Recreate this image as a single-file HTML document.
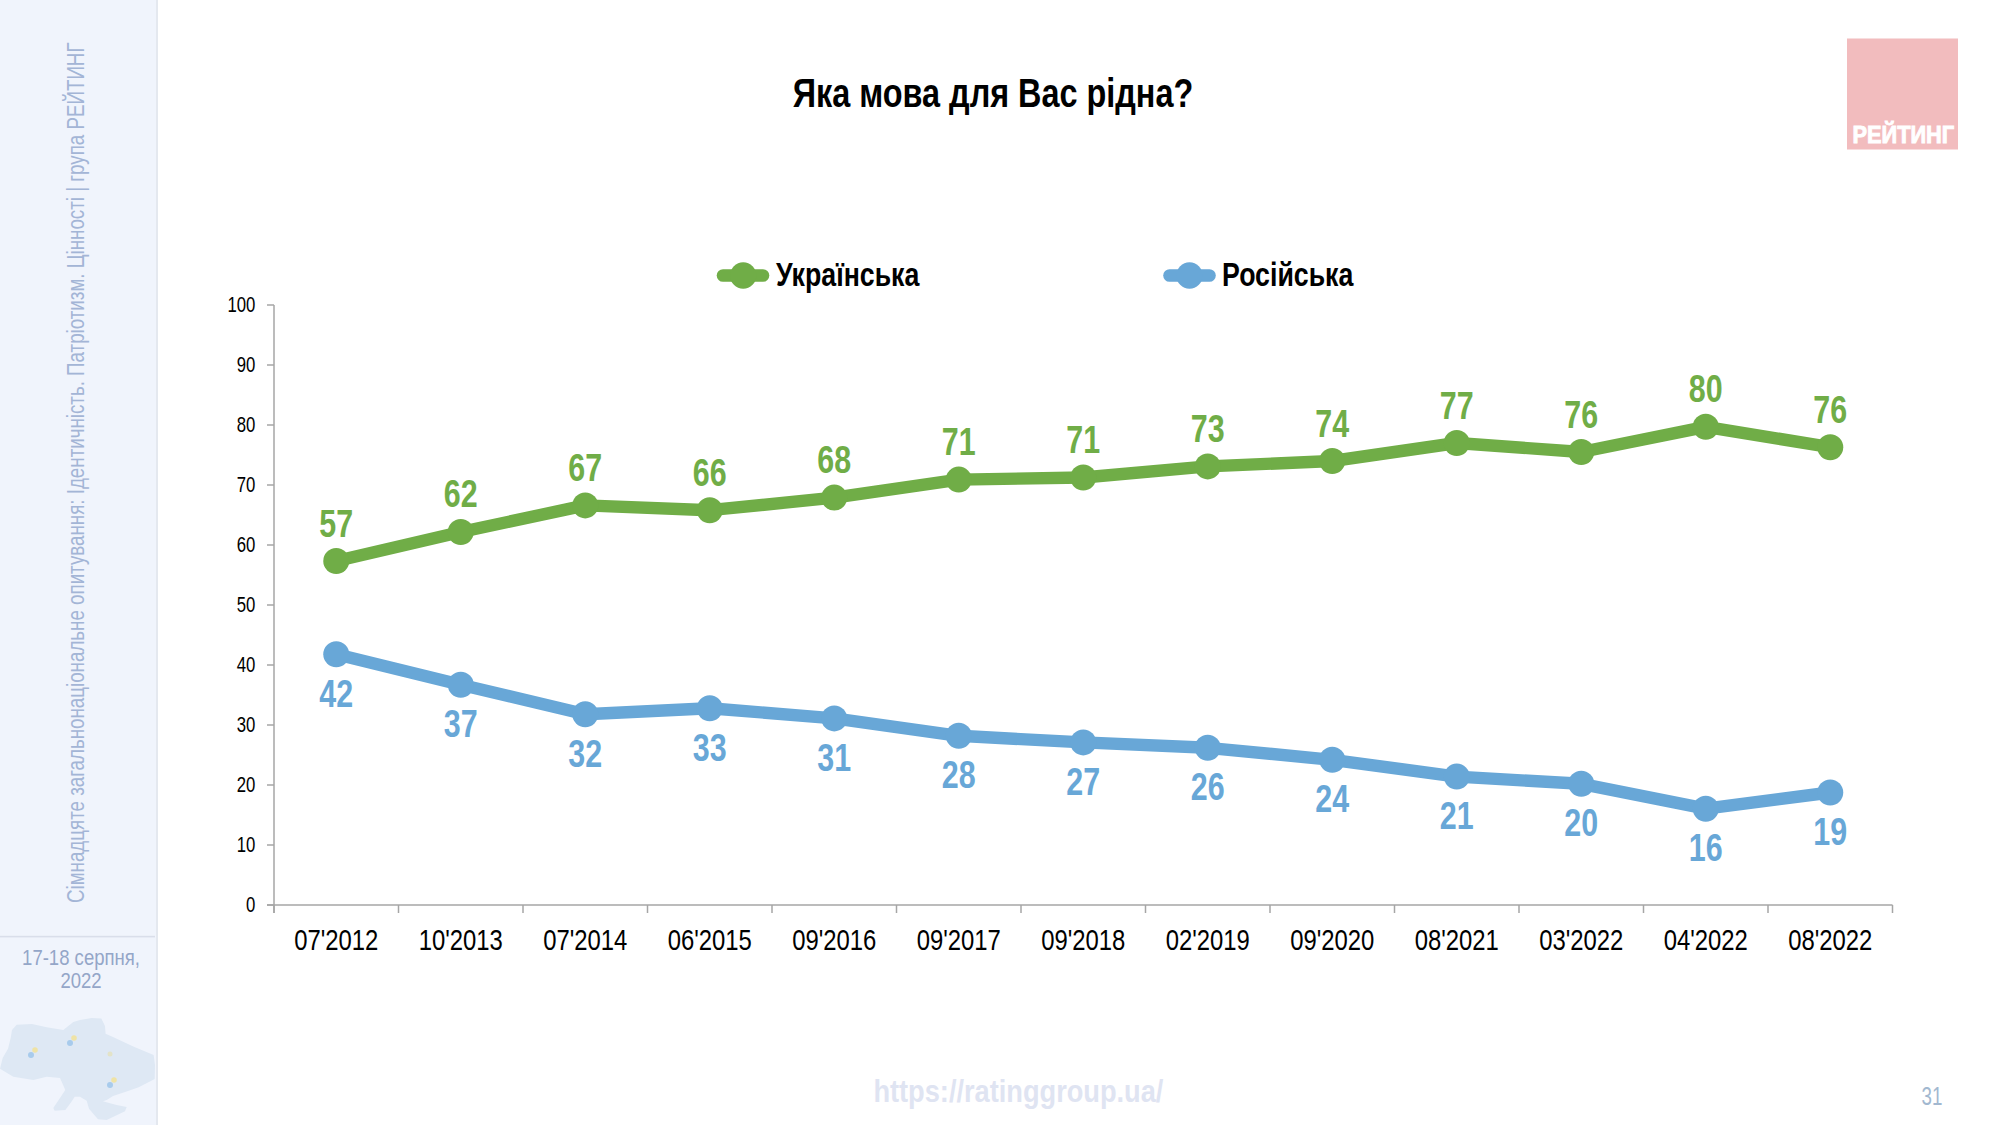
<!DOCTYPE html>
<html><head><meta charset="utf-8"><style>
html,body{margin:0;padding:0;background:#fff;width:2000px;height:1125px;overflow:hidden}
svg{display:block;font-family:"Liberation Sans",sans-serif}
</style></head><body>
<svg width="2000" height="1125" viewBox="0 0 2000 1125">
<rect x="0" y="0" width="157" height="1125" fill="#F0F4FC"/>
<rect x="156" y="0" width="2" height="1125" fill="#E4E8EF"/>
<rect x="0" y="935.8" width="155" height="1.6" fill="#D9DEEA"/>
<text transform="translate(84,903) rotate(-90) scale(0.772,1)" font-size="24.3" fill="#A3B5D6">Сімнадцяте загальнонаціональне опитування: Ідентичність. Патріотизм. Цінності | група РЕЙТИНГ</text>
<text transform="translate(81.00,965.00) scale(0.85,1)" text-anchor="middle" font-size="21.8" font-weight="normal" fill="#94A6C8" >17-18 серпня,</text>
<text transform="translate(81.00,988.00) scale(0.85,1)" text-anchor="middle" font-size="21.8" font-weight="normal" fill="#94A6C8" >2022</text>
<polygon points="12.0,1030.0 16.7,1024.7 32.0,1024.0 46.7,1027.3 63.3,1030.0 73.3,1022.0 80.0,1020.0 91.7,1018.0 101.3,1018.5 105.0,1026.0 105.6,1033.8 113.0,1037.0 133.3,1046.6 153.6,1055.0 155.0,1065.0 154.7,1079.0 138.7,1087.3 128.0,1091.0 113.0,1096.0 106.7,1100.0 103.0,1101.3 110.0,1103.3 116.7,1105.0 126.7,1107.0 125.0,1111.3 106.7,1120.0 98.0,1119.3 89.0,1108.7 86.7,1100.7 80.0,1096.7 74.7,1096.7 71.3,1102.0 65.3,1110.0 54.7,1110.7 53.3,1108.0 60.0,1098.0 65.3,1090.0 60.0,1078.0 46.7,1076.7 33.3,1080.0 13.3,1076.7 0.0,1068.7 2.7,1058.0 8.0,1048.7 10.7,1038.0" fill="#DEE8F4"/>
<circle cx="35" cy="1050" r="2.8" fill="#EFE3A6"/><circle cx="31" cy="1055" r="3" fill="#A8CBEC"/>
<circle cx="74" cy="1038" r="2.8" fill="#EFE3A6"/><circle cx="70" cy="1043" r="3" fill="#A8CBEC"/>
<circle cx="114" cy="1080" r="2.8" fill="#EFE3A6"/><circle cx="110" cy="1085" r="3" fill="#A8CBEC"/>
<circle cx="110" cy="1054" r="2.5" fill="#E3E3C8"/>
<text transform="translate(993.00,106.90) scale(0.81,1)" text-anchor="middle" font-size="40" font-weight="bold" fill="#000" >Яка мова для Вас рідна?</text>
<rect x="1847" y="38.5" width="111" height="111" fill="#F2BCBE"/>
<text transform="translate(1903.30,143.30) scale(0.935,1)" text-anchor="middle" font-size="23.3" font-weight="bold" fill="#FFFFFF" stroke="#FFFFFF" stroke-width="0.9">РЕЙТИНГ</text>
<line x1="723" y1="275.5" x2="763" y2="275.5" stroke="#70AD47" stroke-width="12.6" stroke-linecap="round"/>
<circle cx="743.2" cy="275.5" r="13.2" fill="#70AD47"/>
<text transform="translate(776.00,286.00) scale(0.81,1)" text-anchor="start" font-size="33" font-weight="bold" fill="#000" >Українська</text>
<line x1="1169.5" y1="275.5" x2="1209.5" y2="275.5" stroke="#68A7D7" stroke-width="12.6" stroke-linecap="round"/>
<circle cx="1189.5" cy="275.5" r="13.2" fill="#68A7D7"/>
<text transform="translate(1222.00,286.00) scale(0.81,1)" text-anchor="start" font-size="33" font-weight="bold" fill="#000" >Російська</text>
<line x1="274.0" y1="305.0" x2="274.0" y2="913.0" stroke="#A6A6A6" stroke-width="1.5"/>
<line x1="267.0" y1="905.0" x2="1892.5" y2="905.0" stroke="#A6A6A6" stroke-width="1.5"/>
<line x1="267.0" y1="905.0" x2="274.0" y2="905.0" stroke="#A6A6A6" stroke-width="1.5"/>
<text transform="translate(255.30,912.30) scale(0.775,1)" text-anchor="end" font-size="21.6" font-weight="normal" fill="#000" >0</text>
<line x1="267.0" y1="845.0" x2="274.0" y2="845.0" stroke="#A6A6A6" stroke-width="1.5"/>
<text transform="translate(255.30,852.30) scale(0.775,1)" text-anchor="end" font-size="21.6" font-weight="normal" fill="#000" >10</text>
<line x1="267.0" y1="785.0" x2="274.0" y2="785.0" stroke="#A6A6A6" stroke-width="1.5"/>
<text transform="translate(255.30,792.30) scale(0.775,1)" text-anchor="end" font-size="21.6" font-weight="normal" fill="#000" >20</text>
<line x1="267.0" y1="725.0" x2="274.0" y2="725.0" stroke="#A6A6A6" stroke-width="1.5"/>
<text transform="translate(255.30,732.30) scale(0.775,1)" text-anchor="end" font-size="21.6" font-weight="normal" fill="#000" >30</text>
<line x1="267.0" y1="665.0" x2="274.0" y2="665.0" stroke="#A6A6A6" stroke-width="1.5"/>
<text transform="translate(255.30,672.30) scale(0.775,1)" text-anchor="end" font-size="21.6" font-weight="normal" fill="#000" >40</text>
<line x1="267.0" y1="605.0" x2="274.0" y2="605.0" stroke="#A6A6A6" stroke-width="1.5"/>
<text transform="translate(255.30,612.30) scale(0.775,1)" text-anchor="end" font-size="21.6" font-weight="normal" fill="#000" >50</text>
<line x1="267.0" y1="545.0" x2="274.0" y2="545.0" stroke="#A6A6A6" stroke-width="1.5"/>
<text transform="translate(255.30,552.30) scale(0.775,1)" text-anchor="end" font-size="21.6" font-weight="normal" fill="#000" >60</text>
<line x1="267.0" y1="485.0" x2="274.0" y2="485.0" stroke="#A6A6A6" stroke-width="1.5"/>
<text transform="translate(255.30,492.30) scale(0.775,1)" text-anchor="end" font-size="21.6" font-weight="normal" fill="#000" >70</text>
<line x1="267.0" y1="425.0" x2="274.0" y2="425.0" stroke="#A6A6A6" stroke-width="1.5"/>
<text transform="translate(255.30,432.30) scale(0.775,1)" text-anchor="end" font-size="21.6" font-weight="normal" fill="#000" >80</text>
<line x1="267.0" y1="365.0" x2="274.0" y2="365.0" stroke="#A6A6A6" stroke-width="1.5"/>
<text transform="translate(255.30,372.30) scale(0.775,1)" text-anchor="end" font-size="21.6" font-weight="normal" fill="#000" >90</text>
<line x1="267.0" y1="305.0" x2="274.0" y2="305.0" stroke="#A6A6A6" stroke-width="1.5"/>
<text transform="translate(255.30,312.30) scale(0.775,1)" text-anchor="end" font-size="21.6" font-weight="normal" fill="#000" >100</text>
<line x1="274.0" y1="905.0" x2="274.0" y2="913.0" stroke="#A6A6A6" stroke-width="1.5"/>
<line x1="398.5" y1="905.0" x2="398.5" y2="913.0" stroke="#A6A6A6" stroke-width="1.5"/>
<line x1="523.0" y1="905.0" x2="523.0" y2="913.0" stroke="#A6A6A6" stroke-width="1.5"/>
<line x1="647.5" y1="905.0" x2="647.5" y2="913.0" stroke="#A6A6A6" stroke-width="1.5"/>
<line x1="772.0" y1="905.0" x2="772.0" y2="913.0" stroke="#A6A6A6" stroke-width="1.5"/>
<line x1="896.5" y1="905.0" x2="896.5" y2="913.0" stroke="#A6A6A6" stroke-width="1.5"/>
<line x1="1021.0" y1="905.0" x2="1021.0" y2="913.0" stroke="#A6A6A6" stroke-width="1.5"/>
<line x1="1145.5" y1="905.0" x2="1145.5" y2="913.0" stroke="#A6A6A6" stroke-width="1.5"/>
<line x1="1270.0" y1="905.0" x2="1270.0" y2="913.0" stroke="#A6A6A6" stroke-width="1.5"/>
<line x1="1394.5" y1="905.0" x2="1394.5" y2="913.0" stroke="#A6A6A6" stroke-width="1.5"/>
<line x1="1519.0" y1="905.0" x2="1519.0" y2="913.0" stroke="#A6A6A6" stroke-width="1.5"/>
<line x1="1643.5" y1="905.0" x2="1643.5" y2="913.0" stroke="#A6A6A6" stroke-width="1.5"/>
<line x1="1768.0" y1="905.0" x2="1768.0" y2="913.0" stroke="#A6A6A6" stroke-width="1.5"/>
<line x1="1892.5" y1="905.0" x2="1892.5" y2="913.0" stroke="#A6A6A6" stroke-width="1.5"/>
<text transform="translate(336.25,950.30) scale(0.79,1)" text-anchor="middle" font-size="30.2" font-weight="normal" fill="#000" >07'2012</text>
<text transform="translate(460.75,950.30) scale(0.79,1)" text-anchor="middle" font-size="30.2" font-weight="normal" fill="#000" >10'2013</text>
<text transform="translate(585.25,950.30) scale(0.79,1)" text-anchor="middle" font-size="30.2" font-weight="normal" fill="#000" >07'2014</text>
<text transform="translate(709.75,950.30) scale(0.79,1)" text-anchor="middle" font-size="30.2" font-weight="normal" fill="#000" >06'2015</text>
<text transform="translate(834.25,950.30) scale(0.79,1)" text-anchor="middle" font-size="30.2" font-weight="normal" fill="#000" >09'2016</text>
<text transform="translate(958.75,950.30) scale(0.79,1)" text-anchor="middle" font-size="30.2" font-weight="normal" fill="#000" >09'2017</text>
<text transform="translate(1083.25,950.30) scale(0.79,1)" text-anchor="middle" font-size="30.2" font-weight="normal" fill="#000" >09'2018</text>
<text transform="translate(1207.75,950.30) scale(0.79,1)" text-anchor="middle" font-size="30.2" font-weight="normal" fill="#000" >02'2019</text>
<text transform="translate(1332.25,950.30) scale(0.79,1)" text-anchor="middle" font-size="30.2" font-weight="normal" fill="#000" >09'2020</text>
<text transform="translate(1456.75,950.30) scale(0.79,1)" text-anchor="middle" font-size="30.2" font-weight="normal" fill="#000" >08'2021</text>
<text transform="translate(1581.25,950.30) scale(0.79,1)" text-anchor="middle" font-size="30.2" font-weight="normal" fill="#000" >03'2022</text>
<text transform="translate(1705.75,950.30) scale(0.79,1)" text-anchor="middle" font-size="30.2" font-weight="normal" fill="#000" >04'2022</text>
<text transform="translate(1830.25,950.30) scale(0.79,1)" text-anchor="middle" font-size="30.2" font-weight="normal" fill="#000" >08'2022</text>
<polyline points="336.25,561.02 460.75,531.98 585.25,505.40 709.75,510.20 834.25,497.60 958.75,479.60 1083.25,477.50 1207.75,466.40 1332.25,461.00 1456.75,443.00 1581.25,452.00 1705.75,426.80 1830.25,447.20" fill="none" stroke="#70AD47" stroke-width="12.4" stroke-linejoin="round"/>
<circle cx="336.25" cy="561.02" r="13" fill="#70AD47"/>
<circle cx="460.75" cy="531.98" r="13" fill="#70AD47"/>
<circle cx="585.25" cy="505.40" r="13" fill="#70AD47"/>
<circle cx="709.75" cy="510.20" r="13" fill="#70AD47"/>
<circle cx="834.25" cy="497.60" r="13" fill="#70AD47"/>
<circle cx="958.75" cy="479.60" r="13" fill="#70AD47"/>
<circle cx="1083.25" cy="477.50" r="13" fill="#70AD47"/>
<circle cx="1207.75" cy="466.40" r="13" fill="#70AD47"/>
<circle cx="1332.25" cy="461.00" r="13" fill="#70AD47"/>
<circle cx="1456.75" cy="443.00" r="13" fill="#70AD47"/>
<circle cx="1581.25" cy="452.00" r="13" fill="#70AD47"/>
<circle cx="1705.75" cy="426.80" r="13" fill="#70AD47"/>
<circle cx="1830.25" cy="447.20" r="13" fill="#70AD47"/>
<text transform="translate(336.25,536.52) scale(0.8,1)" text-anchor="middle" font-size="38" font-weight="bold" fill="#70AD47" >57</text>
<text transform="translate(460.75,507.48) scale(0.8,1)" text-anchor="middle" font-size="38" font-weight="bold" fill="#70AD47" >62</text>
<text transform="translate(585.25,480.90) scale(0.8,1)" text-anchor="middle" font-size="38" font-weight="bold" fill="#70AD47" >67</text>
<text transform="translate(709.75,485.70) scale(0.8,1)" text-anchor="middle" font-size="38" font-weight="bold" fill="#70AD47" >66</text>
<text transform="translate(834.25,473.10) scale(0.8,1)" text-anchor="middle" font-size="38" font-weight="bold" fill="#70AD47" >68</text>
<text transform="translate(958.75,455.10) scale(0.8,1)" text-anchor="middle" font-size="38" font-weight="bold" fill="#70AD47" >71</text>
<text transform="translate(1083.25,453.00) scale(0.8,1)" text-anchor="middle" font-size="38" font-weight="bold" fill="#70AD47" >71</text>
<text transform="translate(1207.75,441.90) scale(0.8,1)" text-anchor="middle" font-size="38" font-weight="bold" fill="#70AD47" >73</text>
<text transform="translate(1332.25,436.50) scale(0.8,1)" text-anchor="middle" font-size="38" font-weight="bold" fill="#70AD47" >74</text>
<text transform="translate(1456.75,418.50) scale(0.8,1)" text-anchor="middle" font-size="38" font-weight="bold" fill="#70AD47" >77</text>
<text transform="translate(1581.25,427.50) scale(0.8,1)" text-anchor="middle" font-size="38" font-weight="bold" fill="#70AD47" >76</text>
<text transform="translate(1705.75,402.30) scale(0.8,1)" text-anchor="middle" font-size="38" font-weight="bold" fill="#70AD47" >80</text>
<text transform="translate(1830.25,422.70) scale(0.8,1)" text-anchor="middle" font-size="38" font-weight="bold" fill="#70AD47" >76</text>
<polyline points="336.25,654.20 460.75,684.80 585.25,714.20 709.75,708.20 834.25,718.40 958.75,735.80 1083.25,742.40 1207.75,747.80 1332.25,759.80 1456.75,776.60 1581.25,783.80 1705.75,808.70 1830.25,792.50" fill="none" stroke="#68A7D7" stroke-width="12.4" stroke-linejoin="round"/>
<circle cx="336.25" cy="654.20" r="13" fill="#68A7D7"/>
<circle cx="460.75" cy="684.80" r="13" fill="#68A7D7"/>
<circle cx="585.25" cy="714.20" r="13" fill="#68A7D7"/>
<circle cx="709.75" cy="708.20" r="13" fill="#68A7D7"/>
<circle cx="834.25" cy="718.40" r="13" fill="#68A7D7"/>
<circle cx="958.75" cy="735.80" r="13" fill="#68A7D7"/>
<circle cx="1083.25" cy="742.40" r="13" fill="#68A7D7"/>
<circle cx="1207.75" cy="747.80" r="13" fill="#68A7D7"/>
<circle cx="1332.25" cy="759.80" r="13" fill="#68A7D7"/>
<circle cx="1456.75" cy="776.60" r="13" fill="#68A7D7"/>
<circle cx="1581.25" cy="783.80" r="13" fill="#68A7D7"/>
<circle cx="1705.75" cy="808.70" r="13" fill="#68A7D7"/>
<circle cx="1830.25" cy="792.50" r="13" fill="#68A7D7"/>
<text transform="translate(336.25,706.70) scale(0.8,1)" text-anchor="middle" font-size="38" font-weight="bold" fill="#68A7D7" >42</text>
<text transform="translate(460.75,737.30) scale(0.8,1)" text-anchor="middle" font-size="38" font-weight="bold" fill="#68A7D7" >37</text>
<text transform="translate(585.25,766.70) scale(0.8,1)" text-anchor="middle" font-size="38" font-weight="bold" fill="#68A7D7" >32</text>
<text transform="translate(709.75,760.70) scale(0.8,1)" text-anchor="middle" font-size="38" font-weight="bold" fill="#68A7D7" >33</text>
<text transform="translate(834.25,770.90) scale(0.8,1)" text-anchor="middle" font-size="38" font-weight="bold" fill="#68A7D7" >31</text>
<text transform="translate(958.75,788.30) scale(0.8,1)" text-anchor="middle" font-size="38" font-weight="bold" fill="#68A7D7" >28</text>
<text transform="translate(1083.25,794.90) scale(0.8,1)" text-anchor="middle" font-size="38" font-weight="bold" fill="#68A7D7" >27</text>
<text transform="translate(1207.75,800.30) scale(0.8,1)" text-anchor="middle" font-size="38" font-weight="bold" fill="#68A7D7" >26</text>
<text transform="translate(1332.25,812.30) scale(0.8,1)" text-anchor="middle" font-size="38" font-weight="bold" fill="#68A7D7" >24</text>
<text transform="translate(1456.75,829.10) scale(0.8,1)" text-anchor="middle" font-size="38" font-weight="bold" fill="#68A7D7" >21</text>
<text transform="translate(1581.25,836.30) scale(0.8,1)" text-anchor="middle" font-size="38" font-weight="bold" fill="#68A7D7" >20</text>
<text transform="translate(1705.75,861.20) scale(0.8,1)" text-anchor="middle" font-size="38" font-weight="bold" fill="#68A7D7" >16</text>
<text transform="translate(1830.25,845.00) scale(0.8,1)" text-anchor="middle" font-size="38" font-weight="bold" fill="#68A7D7" >19</text>
<text transform="translate(1018.40,1102.00) scale(0.85,1)" text-anchor="middle" font-size="32" font-weight="bold" fill="#DFE4F2" >https://ratinggroup.ua/</text>
<text transform="translate(1932.00,1105.00) scale(0.75,1)" text-anchor="middle" font-size="25" font-weight="normal" fill="#A2B8D0" >31</text>
</svg>
</body></html>
